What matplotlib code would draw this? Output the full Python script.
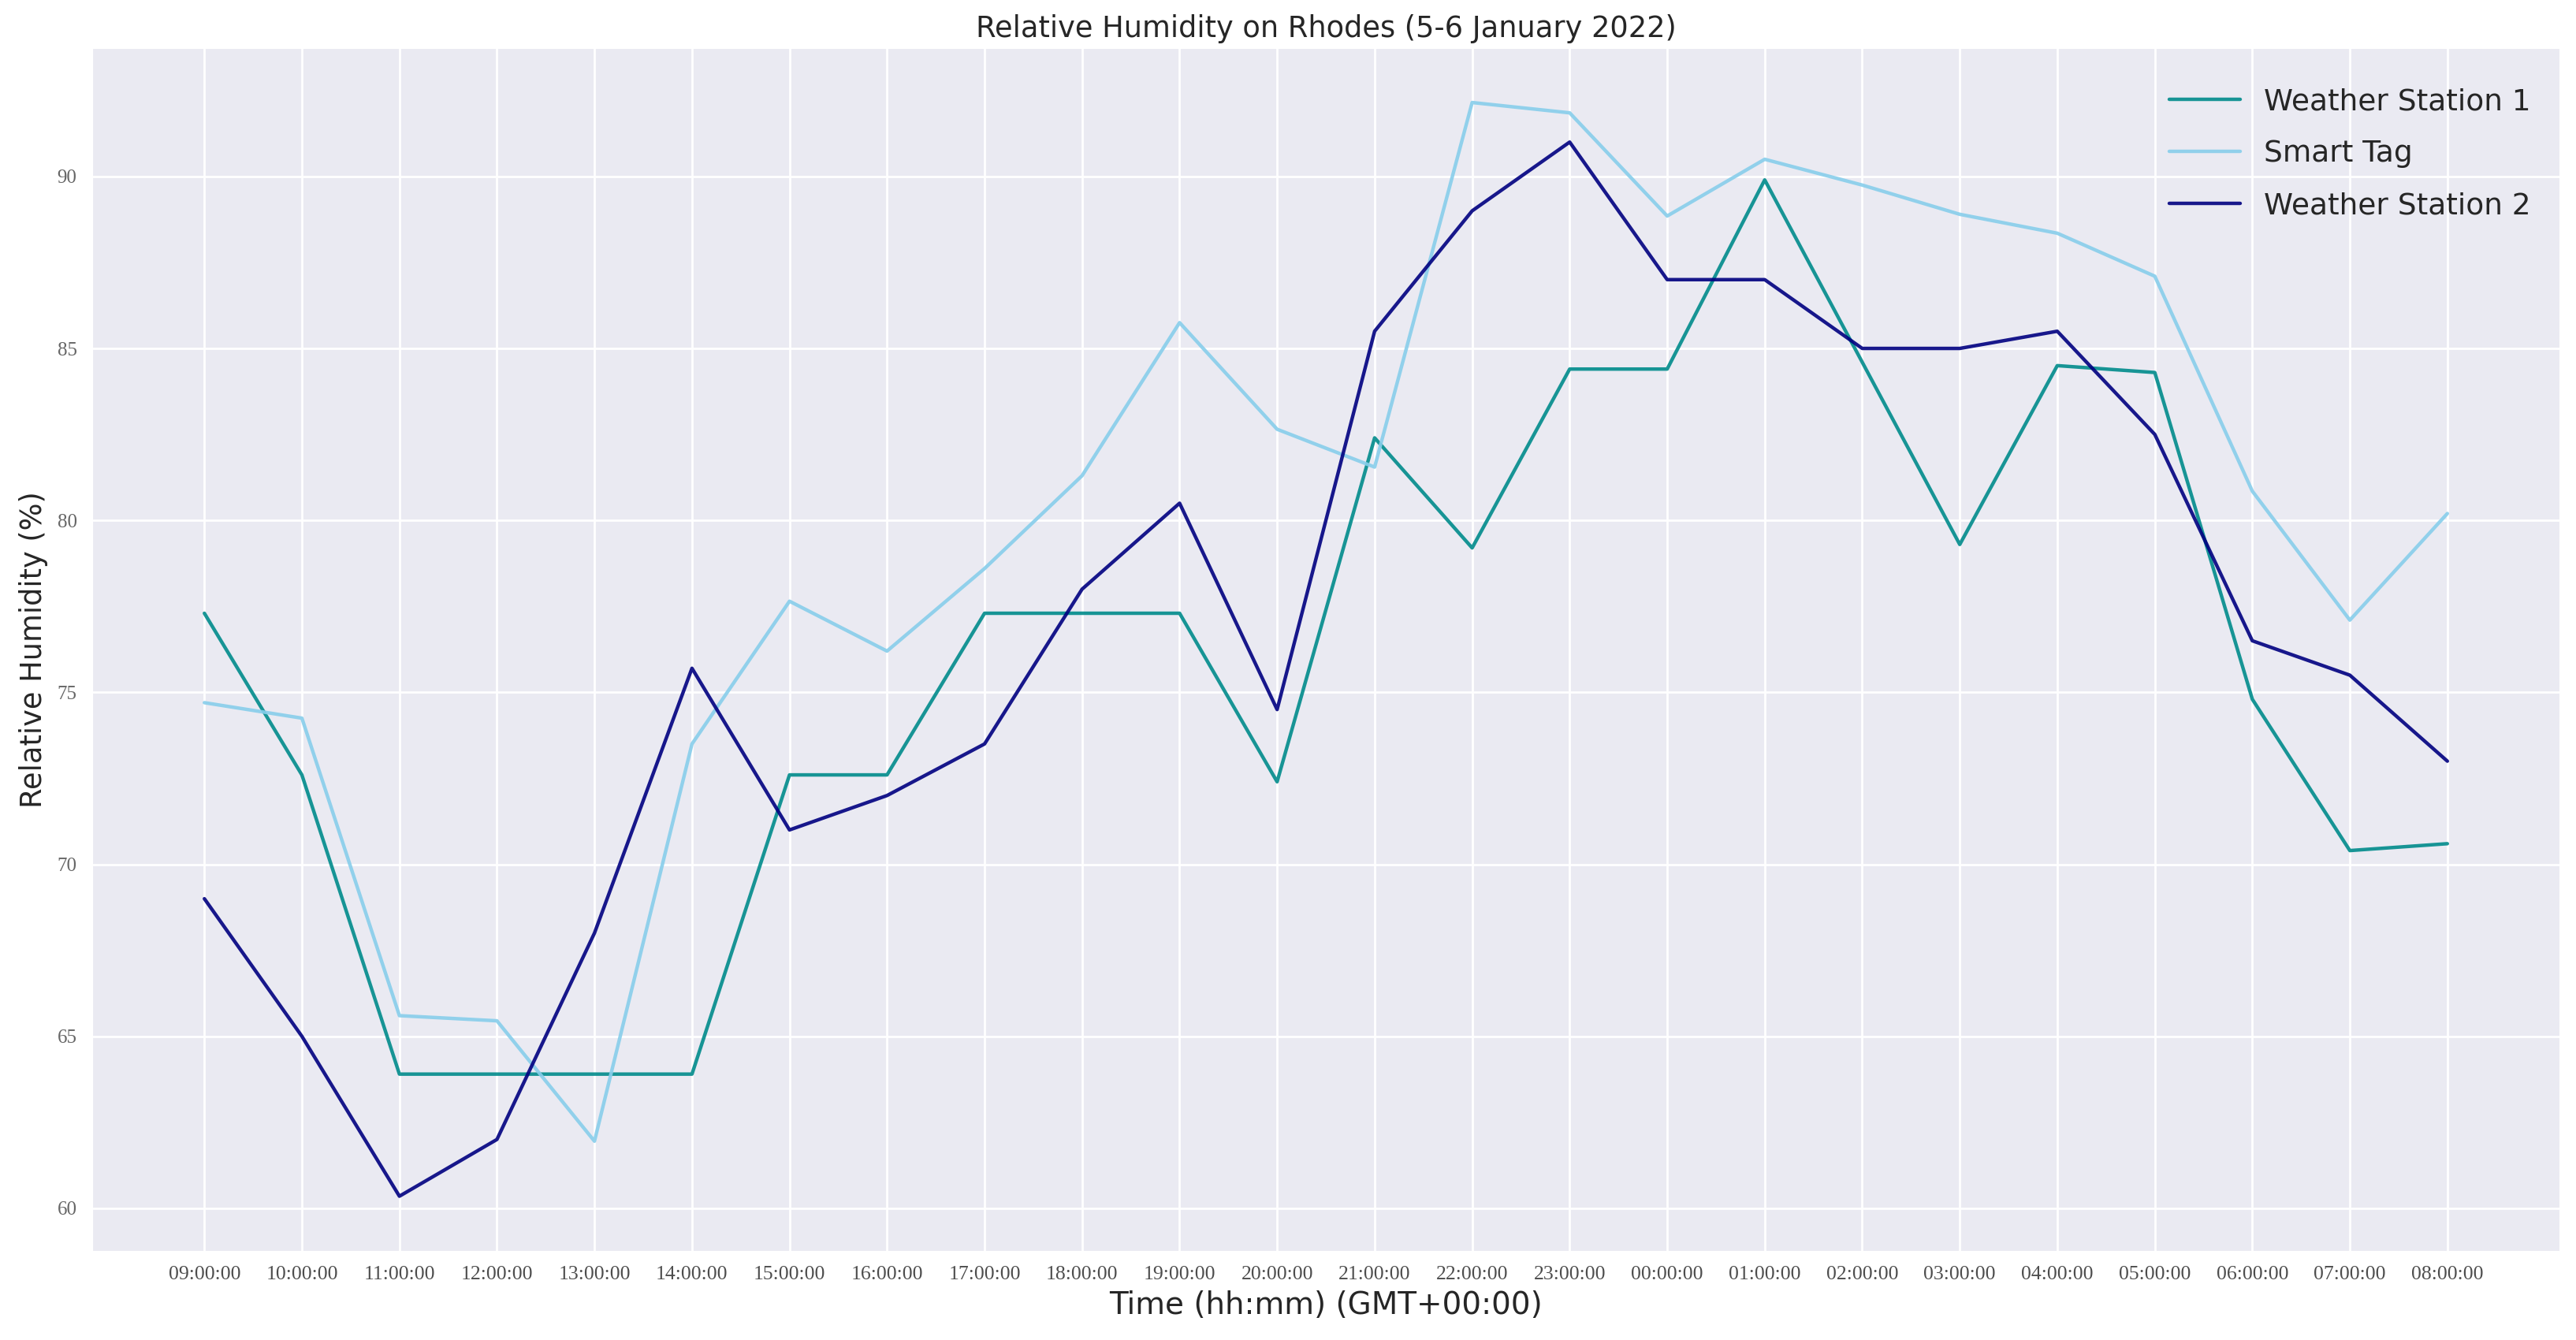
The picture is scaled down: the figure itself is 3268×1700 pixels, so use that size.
import matplotlib

matplotlib.use("Agg")

import matplotlib.pyplot as plt
import numpy as np
import seaborn as sns

times = [
    "09:00:00", "10:00:00", "11:00:00", "12:00:00", "13:00:00", "14:00:00",
    "15:00:00", "16:00:00", "17:00:00", "18:00:00", "19:00:00", "20:00:00",
    "21:00:00", "22:00:00", "23:00:00", "00:00:00", "01:00:00", "02:00:00",
    "03:00:00", "04:00:00", "05:00:00", "06:00:00", "07:00:00", "08:00:00",
]

station_1 = [
    77.3, 72.6, 63.9, 63.9, 63.9, 63.9, 72.6, 72.6, 77.3, 77.3, 77.3, 72.4,
    82.4, 79.2, 84.4, 84.4, 89.9, 84.6, 79.3, 84.5, 84.3, 74.8, 70.4, 70.6,
]

smart_tag = [
    74.7, 74.25, 65.6, 65.45, 61.95, 73.5, 77.65, 76.2, 78.6, 81.3, 85.75, 82.65,
    81.55, 92.15, 91.85, 88.85, 90.5, 89.75, 88.9, 88.35, 87.1, 80.85, 77.1, 80.2,
]

station_2 = [
    69.0, 65.0, 60.35, 62.0, 68.0, 75.7, 71.0, 72.0, 73.5, 78.0, 80.5, 74.5,
    85.5, 89.0, 91.0, 87.0, 87.0, 85.0, 85.0, 85.5, 82.5, 76.5, 75.5, 73.0,
]

sns.set_style("darkgrid")

sans = "DejaVu Sans"

fig, ax = plt.subplots(figsize=(32.68, 17), dpi=100)
fig.subplots_adjust(left=0.0358, right=0.9936, top=0.9643, bottom=0.0665)

x = np.arange(len(times))

ax.plot(x, station_1, color="darkcyan", alpha=0.9, linewidth=3.2,
        label="Weather Station 1")
ax.plot(x, smart_tag, color="skyblue", alpha=0.9, linewidth=3.2,
        label="Smart Tag")
ax.plot(x, station_2, color="navy", alpha=0.9, linewidth=3.2,
        label="Weather Station 2")

ax.grid(color="white", linewidth=2.0)

ax.set_xticks(x)
ax.set_xticklabels(times, fontsize=18.5, family="Liberation Serif",
                   color="0.3")
ax.set_yticks([60, 65, 70, 75, 80, 85, 90])
ax.set_yticklabels(["60", "65", "70", "75", "80", "85", "90"], fontsize=18,
                   family="Liberation Serif", color="0.4")
ax.tick_params(axis="both", length=0, pad=14)

ax.set_title("Relative Humidity on Rhodes (5-6 January 2022)",
             family=sans, fontsize=26.5, color="0.15", pad=10)
ax.set_xlabel("Time (hh:mm) (GMT+00:00)", family=sans, fontsize=28,
              color="0.15", labelpad=6)
ax.set_ylabel("Relative Humidity (%)", family=sans, fontsize=26.5,
              color="0.15", labelpad=8)

ax.legend(loc="upper right", bbox_to_anchor=(1.0045, 1.0), frameon=False,
          handlelength=2.4, labelspacing=0.8, borderaxespad=0.95,
          prop={"family": sans, "size": 27})

fig.savefig("out.png", dpi=100)
